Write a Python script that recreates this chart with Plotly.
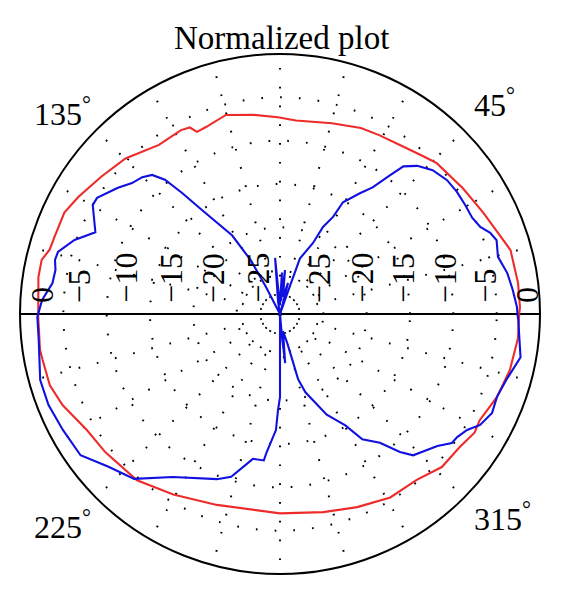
import plotly.graph_objects as go

# ---------------- data ----------------
red_theta = [0, 1.7, 7.4, 15.5, 20.7, 26.5, 34.5, 43.9, 46.9, 51.2, 53.4, 61, 66.5, 74.8,
             85.3, 90.6, 97.7, 105.2, 111.6, 114.5, 115.8, 118.3, 125.6, 134.8, 142.4,
             149.9, 154.8, 161.1, 164.4, 167.2, 171.3, 180.7, 188.5, 190.9, 197.2, 202.7,
             211, 218.3, 229.3, 239.4, 251.7, 270, 282.3, 291.8, 301, 309.5, 316.6, 323.5,
             328.6, 332, 339, 346.3, 354.2, 360]
red_db = [-2.4, -2.3, -2.3, -2.4, -3.2, -3.8, -4.4, -4.9, -5.3, -5.8, -6.0, -6.4, -6.6, -7.2,
          -7.6, -7.3, -6.8, -6.2, -6.8, -6.9, -6.1, -5.9, -6.0, -4.7, -4.0,
          -3.1, -2.5, -2.5, -2.4, -1.8, -1.8, -2.1, -2.0, -2.1, -2.2, -2.8,
          -4.0, -4.3, -4.7, -5.8, -6.8, -7.0, -6.6, -6.0, -5.3, -5.2, -4.3, -4.2,
          -3.7, -3.9, -3.2, -2.7, -2.4, -2.4]

blue_theta = [0, 1.7, 5.9, 10.2, 14.7, 18.8, 21.1, 23.5, 26.6, 30.5, 34.6, 38.7, 43.3, 47.2,
              50.1, 51.6, 53.8, 56.5, 60.6, 61.3, 63.7, 65.1, 70.3, 70.5, 72, 75.5, 80,
              83.5, 86, 87.3, 91, 95, 99, 104, 117.5, 118.5, 121.3, 126.9, 129, 130.6,
              132.6, 135.2, 138.5, 142.1, 147.6, 149.8, 156.1, 160.2, 164.4, 166.5, 168.9,
              172.3, 176.6, 180.7, 186.1, 195.4, 201.4, 208.1, 215.3, 221.7, 228.5, 236.7,
              249.1, 253.3, 259.4, 263.7, 264.5, 268, 268.8, 270, 270.5, 275, 276, 280,
              284, 285, 285.5, 288, 294.9, 300.4, 303.3, 307.8, 311, 313.3, 320, 323.1,
              325.2, 328.2, 331, 335, 339.1, 343.8, 349.8, 358.6, 360]
blue_db = [-2.6, -2.65, -3.0, -3.35, -4.0, -3.6, -4.0, -4.8, -5.2, -5.2, -5.2, -5.3, -5.8, -6.7,
           -7.8, -9.6, -11.9, -13.3, -15.2, -17.2, -18.8, -21.0, -23.2, -26.7, -30, -26.3, -28,
           -24.9, -28.5, -25.2, -29, -23.5, -28.6, -30, -26.4, -23.0, -19.4, -15.0, -12.0, -9.6,
           -8.2, -7.6, -7.2, -6.3, -5.0, -5.0, -6.7, -4.8, -3.4, -3.3, -3.6,
           -3.5, -2.5, -2.0, -2.0, -1.3, -1.3, -1.6, -1.8, -3.5, -4.6, -7.5,
           -9.6, -10.4, -13.0, -13.0, -14.0, -16.6, -18.9, -20.4, -30, -27.3, -24.3, -28,
           -26.5, -24.7, -22.2, -20.5, -17.2, -15.1, -12.7, -11.2, -8.9, -7.6, -6.3, -5.2,
           -5.1, -4.6, -3.6, -3.0, -3.2, -2.8, -1.8, -2.5, -2.6]

radial_ticks = [0, -5, -10, -15, -20, -25]
radial_labels = ["0", "\u22125", "\u221210", "\u221215", "\u221220", "\u221225"]
angle_ticks = [45, 135, 225, 315]
r_min, r_max = -30, 0
title_text = "Normalized plot"

# ---------------- geometry ----------------
OFF = 8                      # page body margin offset
W, H = 566 - OFF, 597 - OFF
CX, CY, R = 280 - OFF, 314 - OFF, 260   # centre and radius of polar area in figure pixels
FONT = "Liberation Serif, Times New Roman, serif"
FS = 33

# label nudges (pixels) toward the centre, per radial tick, left and right side
left_nudge = [22, 16, 19, 21, 20, 21]
right_nudge = [13, 12, 8, 7, 5, 4]
# angle label placement: (x edge, y centre, x anchor) in figure pixels
angle_pos = {45: (464, 95, "left"), 135: (85, 104, "right"),
             225: (85, 517, "right"), 315: (464, 509, "left")}


def px(x):
    return x / W


def py(y):
    return 1 - y / H


fig = go.Figure()

# horizontal diameter line (0 deg - 180 deg)
fig.add_trace(go.Scatterpolar(r=[r_max, r_min, r_max], theta=[0, 0, 180], mode="lines",
                              line=dict(color="black", width=2), hoverinfo="skip",
                              showlegend=False))
fig.add_trace(go.Scatterpolar(r=red_db, theta=red_theta, mode="lines",
                              line=dict(color="#ee2b2b", width=2.1), showlegend=False))
fig.add_trace(go.Scatterpolar(r=blue_db, theta=blue_theta, mode="lines",
                              line=dict(color="#1010e0", width=2.1), showlegend=False))

dotdash = "1.7px,17.1px"
fig.update_layout(
    width=W, height=H,
    margin=dict(l=0, r=0, t=0, b=0),
    paper_bgcolor="white",
    showlegend=False,
    polar=dict(
        domain=dict(x=[(CX - R) / W, (CX + R) / W],
                    y=[(H - CY - R) / H, (H - CY + R) / H]),
        bgcolor="white",
        radialaxis=dict(range=[r_min, r_max], tickvals=[-25, -20, -15, -10, -5],
                        showticklabels=False, ticks="", showline=False,
                        showgrid=True, gridcolor="black", gridwidth=1.7, griddash=dotdash),
        angularaxis=dict(rotation=0, direction="counterclockwise", dtick=15,
                         showticklabels=False, ticks="", showline=True,
                         linecolor="black", linewidth=2,
                         showgrid=True, gridcolor="black", gridwidth=1.7, griddash=dotdash),
    ),
)

annotations = []
# radial tick labels, rotated, on both sides of the horizontal diameter
for v, lab, ln, rn in zip(radial_ticks, radial_labels, left_nudge, right_nudge):
    rp = (v - r_min) / (r_max - r_min) * R
    for xpos in (CX - rp + ln, CX + rp - rn):
        annotations.append(dict(x=px(xpos), y=py(CY - 9), xref="paper",
                                yref="paper", text=lab, textangle=-90, showarrow=False,
                                xanchor="center", yanchor="bottom",
                                font=dict(family=FONT, size=FS - 1, color="black")))

# angle labels outside the circle
for a in angle_ticks:
    x, y, anc = angle_pos[a]
    annotations.append(dict(x=px(x), y=py(y), xref="paper", yref="paper",
                            text=f"{a}<sup>°</sup>", showarrow=False,
                            xanchor=anc, yanchor="middle",
                            font=dict(family=FONT, size=FS - 1, color="black")))

annotations.append(dict(x=px(CX + 1), y=py(38 - OFF), xref="paper", yref="paper",
                        text=title_text, showarrow=False, xanchor="center",
                        yanchor="middle", font=dict(family=FONT, size=FS, color="black")))

fig.update_layout(annotations=annotations)
fig.write_html("out.html")
